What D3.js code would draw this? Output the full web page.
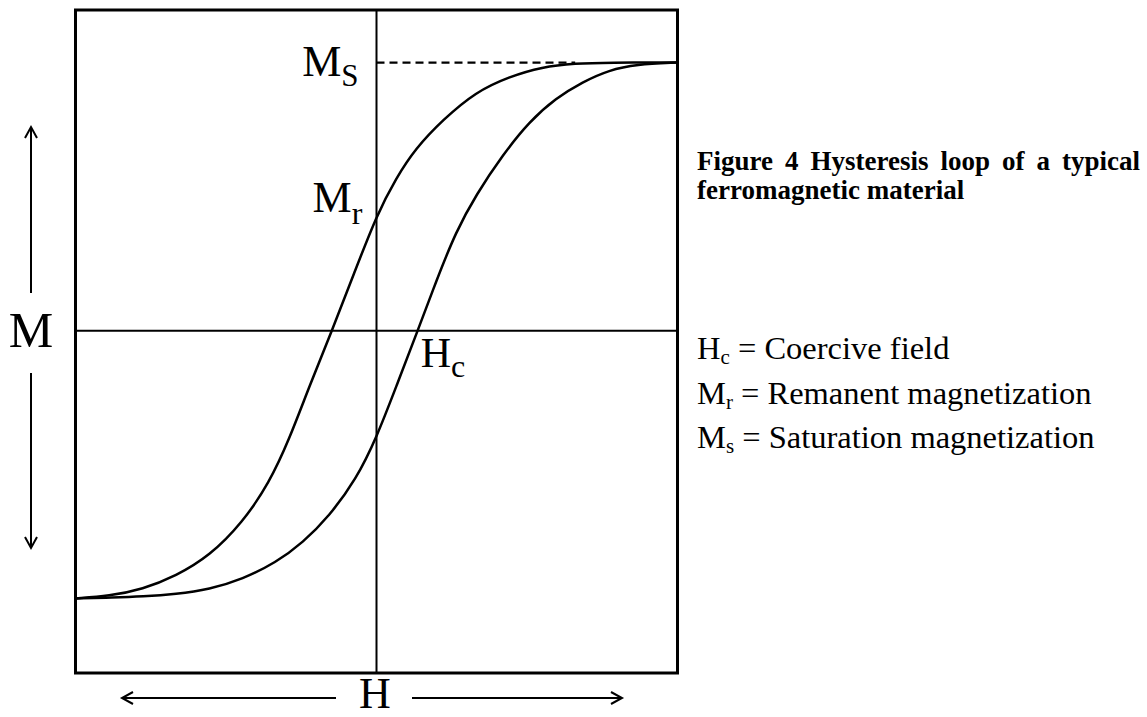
<!DOCTYPE html>
<html>
<head>
<meta charset="utf-8">
<script src="https://cdn.jsdelivr.net/npm/d3@7"></script>
<style>
  body { margin: 0; background: #fff; }
  text { font-family: "Liberation Serif", "Times New Roman", serif; fill: #000; }
</style>
</head>
<body>
<svg id="loop" width="1147" height="717"></svg>
<script>
// Descending branch (coming back from +Ms): H, M (M in units of Ms)
var descH = [100, 77, 66, 55, 44, 33, 22, 13, 6.5, 0, -7.5, -14.8, -22.3, -29, -35.6, -44.5, -55.5, -66.6, -77.7, -88.8, -100];
var descM = [1, 1, 0.997, 0.984, 0.947, 0.891, 0.786, 0.68, 0.569, 0.43, 0.212, 0, -0.207, -0.406, -0.567, -0.716, -0.841, -0.915, -0.965, -0.99, -0.999];

// Ascending branch (coming up from -Ms)
var ascH = [-100, -87.6, -77.7, -66.6, -55.5, -44.5, -33.4, -24.5, -15.7, -6.8, 0, 6.8, 13.7, 19.8, 26.4, 33.1, 41.9, 50.8, 59.6, 68.5, 77.3, 86.2, 100];
var ascM = [-0.999, -0.996, -0.992, -0.983, -0.965, -0.927, -0.865, -0.791, -0.692, -0.555, -0.4, -0.201, 0, 0.184, 0.37, 0.507, 0.655, 0.78, 0.867, 0.928, 0.972, 0.993, 1];

// Extent of the frame in data units, and where the Ms dashes stop
var hExtent = [-100, 100];
var mExtent = [-1.277, 1.196];
var msDashEnd = 66;

var title = ["Figure 4 Hysteresis loop of a typical", "ferromagnetic material"];
var legend = [
  { sym: "H", sub: "c", text: " = Coercive field" },
  { sym: "M", sub: "r", text: " = Remanent magnetization" },
  { sym: "M", sub: "s", text: " = Saturation magnetization" }
];

var svg = d3.select("#loop");

var x = d3.scaleLinear().domain(hExtent).range([75.5, 677.5]);
var y = d3.scaleLinear().domain(mExtent).range([673, 10]);

// frame
svg.append("rect")
  .attr("x", x(hExtent[0])).attr("y", y(mExtent[1]))
  .attr("width", x(hExtent[1]) - x(hExtent[0]))
  .attr("height", y(mExtent[0]) - y(mExtent[1]))
  .attr("fill", "none").attr("stroke", "#000").attr("stroke-width", 3);

// axes through the origin
svg.append("line")
  .attr("x1", x(0)).attr("x2", x(0))
  .attr("y1", y(mExtent[1])).attr("y2", y(mExtent[0]))
  .attr("stroke", "#000").attr("stroke-width", 2);
svg.append("line")
  .attr("x1", x(hExtent[0])).attr("x2", x(hExtent[1]))
  .attr("y1", y(0)).attr("y2", y(0))
  .attr("stroke", "#000").attr("stroke-width", 2);

// Ms dashed guide
svg.append("line")
  .attr("x1", x(0)).attr("x2", x(msDashEnd))
  .attr("y1", y(1)).attr("y2", y(1))
  .attr("stroke", "#000").attr("stroke-width", 2.2)
  .attr("stroke-dasharray", "8,5");

var line = d3.line()
  .x(function (d) { return x(d[0]); })
  .y(function (d) { return y(d[1]); })
  .curve(d3.curveBasis);

var desc = descH.map(function (h, i) { return [h, descM[i]]; }).reverse();
var asc = ascH.map(function (h, i) { return [h, ascM[i]]; });

svg.selectAll("path.branch")
  .data([desc, asc])
  .enter()
  .append("path")
  .attr("class", "branch")
  .attr("d", line)
  .attr("fill", "none")
  .attr("stroke", "#000")
  .attr("stroke-width", 2.5);

// labels with subscripts
function label(px, py, main, sub, size, subSize, dy, anchor) {
  var t = svg.append("text")
    .attr("x", px).attr("y", py)
    .attr("text-anchor", anchor || "start")
    .style("font-size", size + "px");
  t.append("tspan").text(main);
  if (sub) t.append("tspan").attr("dy", dy).style("font-size", subSize + "px").text(sub);
  return t;
}

label(x(0) - 18, y(1) + 13, "M", "S", 44, 31, 10, "end");
label(x(0) - 64, y(0.43) - 3, "M", "r", 44, 32, 12);
label(x(13.7) + 3, y(0) + 36, "H", "c", 42, 32, 10);

// axis names and arrows
label(31, 347, "M", null, 50, 0, 0, "middle");
label(375, 708, "H", null, 44, 0, 0, "middle");

function arrow(x1, y1, x2, y2) {
  svg.append("line")
    .attr("x1", x1).attr("y1", y1).attr("x2", x2).attr("y2", y2)
    .attr("stroke", "#000").attr("stroke-width", 2);
  var a = Math.atan2(y2 - y1, x2 - x1), L = 11, W = 6;
  var bx = x2 - L * Math.cos(a), by = y2 - L * Math.sin(a);
  var nx = -Math.sin(a) * W, ny = Math.cos(a) * W;
  svg.append("polyline")
    .attr("points", [[bx + nx, by + ny], [x2, y2], [bx - nx, by - ny]].map(function (p) { return p.join(","); }).join(" "))
    .attr("fill", "none").attr("stroke", "#000").attr("stroke-width", 2);
}
arrow(31, 293, 31, 127);
arrow(31, 373, 31, 548);
arrow(336, 698, 122, 698);
arrow(412, 698, 622, 698);

// caption, justified first line
var capLeft = 697, capRight = 1140;
title.forEach(function (ln, i) {
  var words = ln.split(" ");
  var g = svg.append("g");
  var nodes = words.map(function (w) {
    return g.append("text").attr("y", 170 + i * 29)
      .style("font-size", "27px").style("font-weight", "bold").text(w);
  });
  var widths = nodes.map(function (n) { return n.node().getComputedTextLength(); });
  var gap = i === 0 ? (capRight - capLeft - d3.sum(widths)) / (words.length - 1) : 6.8;
  var cx = capLeft;
  nodes.forEach(function (n, k) { n.attr("x", cx); cx += widths[k] + gap; });
});

legend.forEach(function (d, i) {
  var t = svg.append("text").attr("x", 697).attr("y", 359 + i * 44.5).style("font-size", "32.5px");
  t.append("tspan").text(d.sym);
  t.append("tspan").attr("dy", 5).style("font-size", "21px").text(d.sub);
  t.append("tspan").attr("dy", -5).text(d.text);
});
</script>
</body>
</html>
